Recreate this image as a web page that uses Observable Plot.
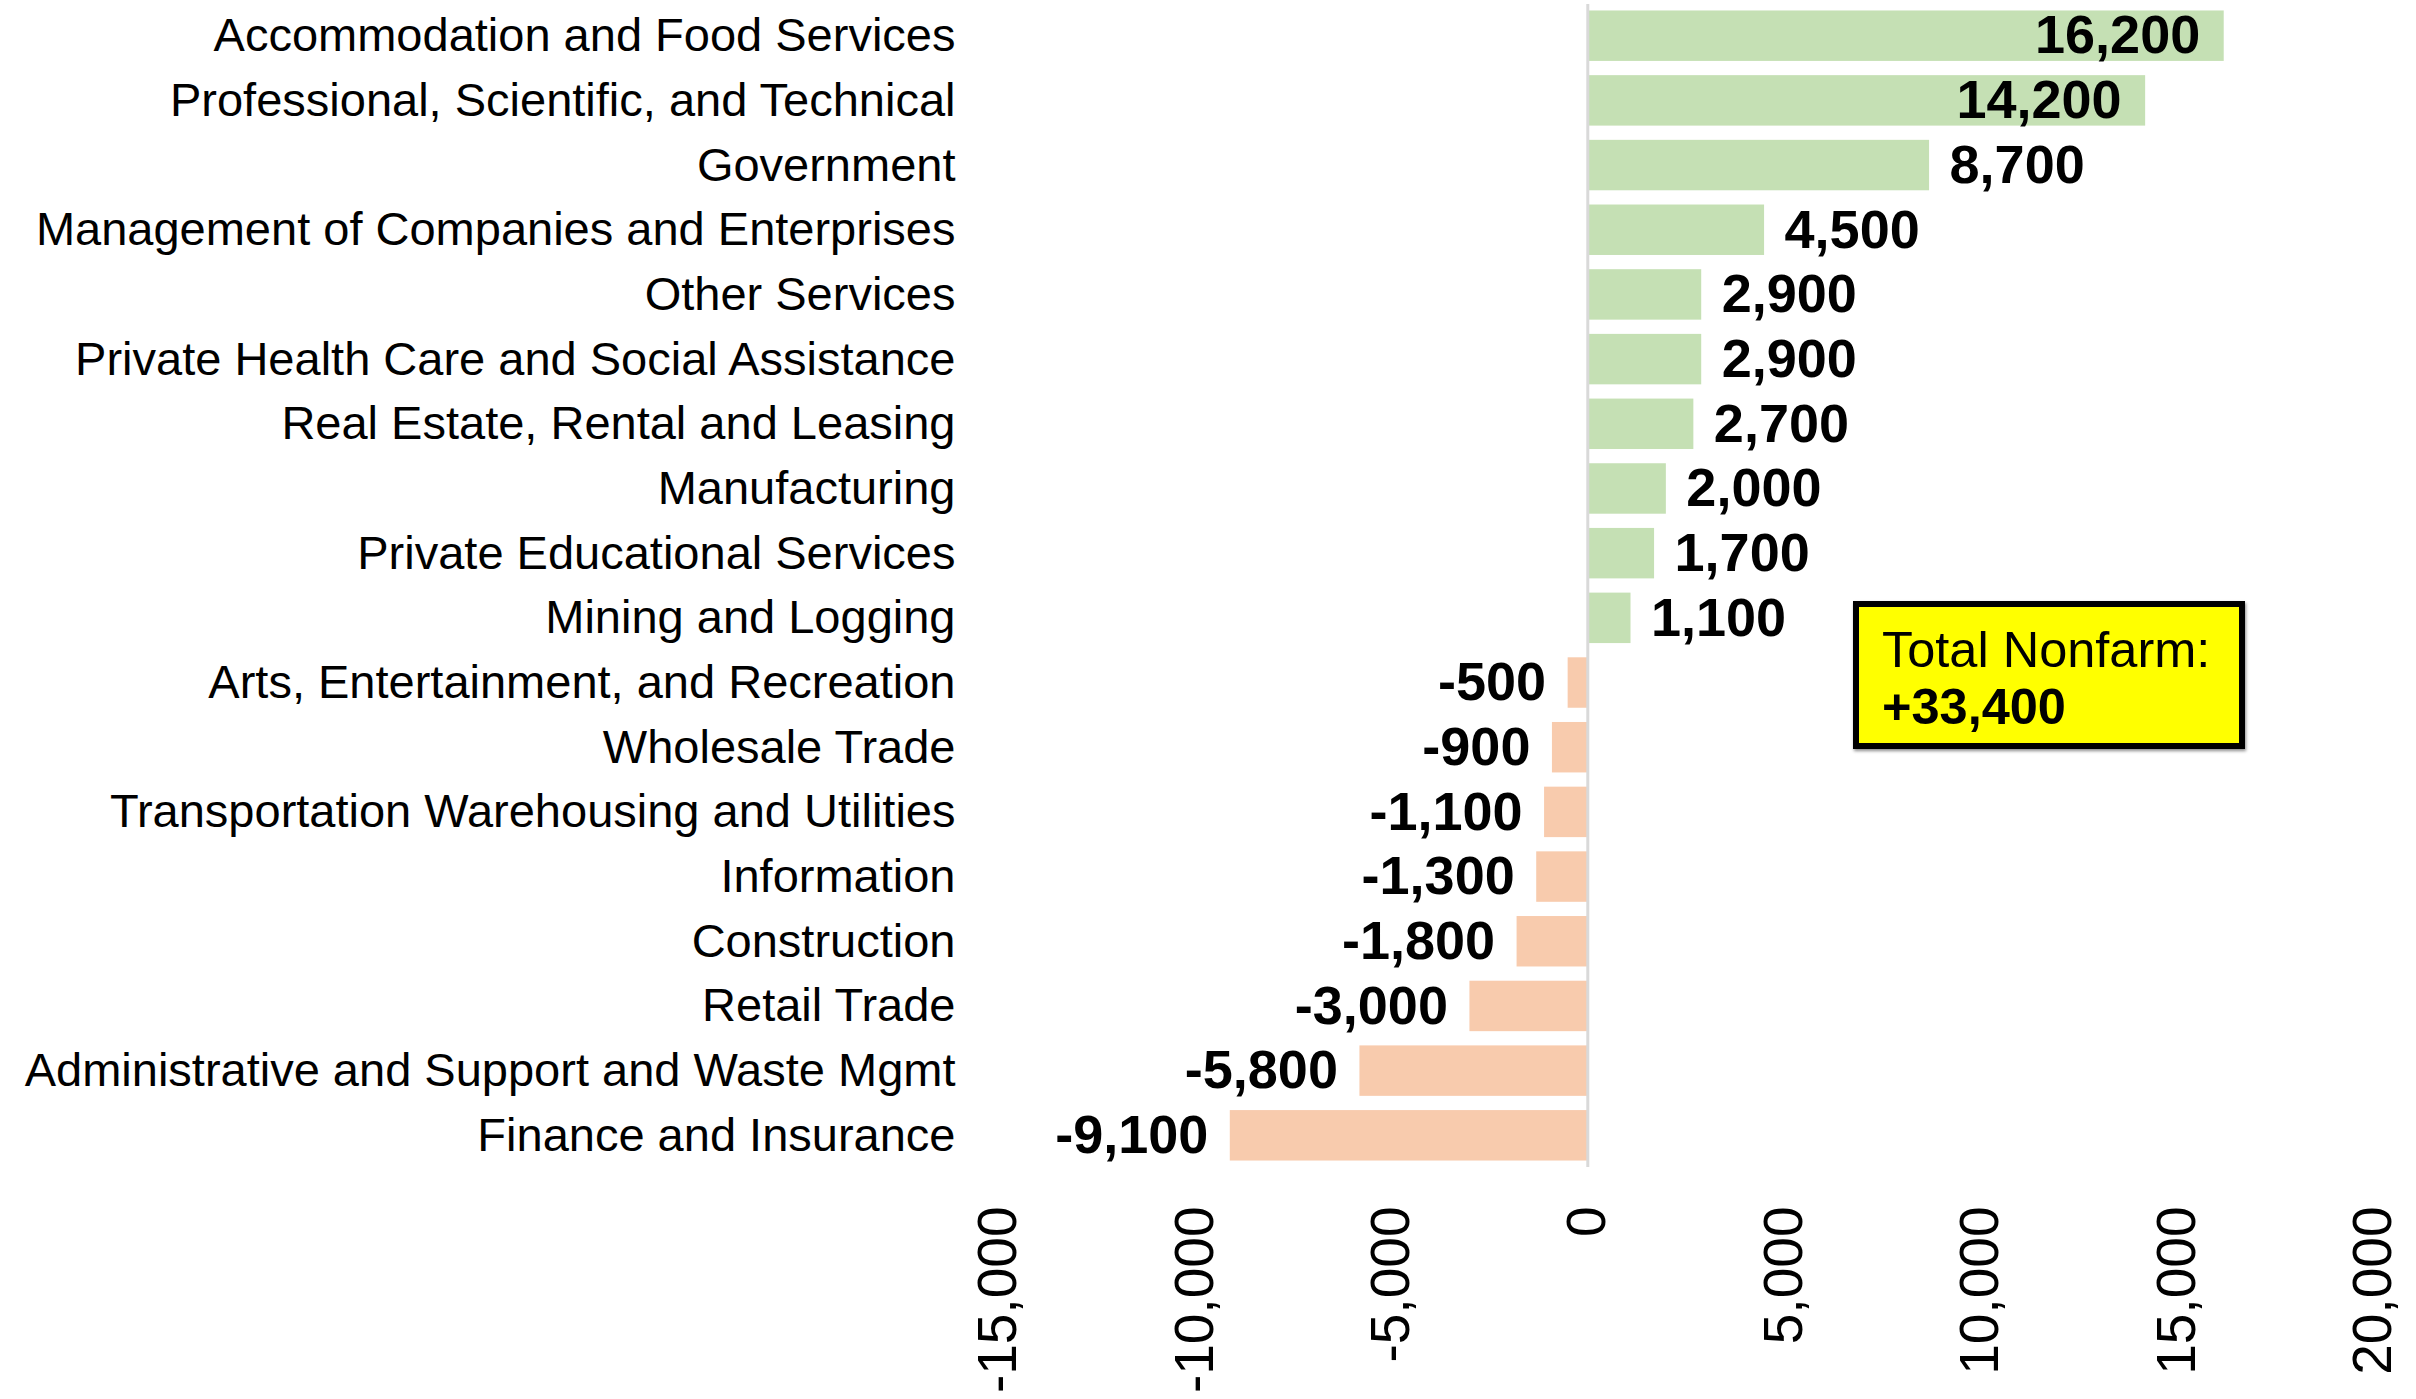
<!DOCTYPE html>
<html>
<head>
<meta charset="utf-8">
<script src="https://cdn.jsdelivr.net/npm/d3@7"></script>
<script src="https://cdn.jsdelivr.net/npm/@observablehq/plot@0.6"></script>
<style>
  html, body { margin: 0; padding: 0; background: #fff; }
  #wrap { position: relative; width: 2416px; height: 1399px; font-family: 'Liberation Sans', Arial, sans-serif; }
  #note {
    position: absolute; left: 1853px; top: 601px;
    width: 380px; height: 136px; box-sizing: content-box;
    background: #ffff00; border: 6px solid #000;
    box-shadow: 1px 2px 3px rgba(0,0,0,0.45);
    padding: 0; font-size: 50.5px; line-height: 57px; color: #000;
  }
  #note .l1 { position: absolute; left: 23px; top: 14px; white-space: nowrap; }
  #note .l2 { position: absolute; left: 23px; top: 71px; font-weight: bold; white-space: nowrap; }
</style>
</head>
<body>
<div id="wrap"></div>
<script>
const categories = [
  "Accommodation and Food Services",
  "Professional, Scientific, and Technical",
  "Government",
  "Management of Companies and Enterprises",
  "Other Services",
  "Private Health Care and Social Assistance",
  "Real Estate, Rental and Leasing",
  "Manufacturing",
  "Private Educational Services",
  "Mining and Logging",
  "Arts, Entertainment, and Recreation",
  "Wholesale Trade",
  "Transportation Warehousing and Utilities",
  "Information",
  "Construction",
  "Retail Trade",
  "Administrative and Support and Waste Mgmt",
  "Finance and Insurance"
];
const values = [16200, 14200, 8700, 4500, 2900, 2900, 2700, 2000, 1700, 1100,
  -500, -900, -1100, -1300, -1800, -3000, -5800, -9100];
const tickValues = [-15000, -10000, -5000, 0, 5000, 10000, 15000, 20000];
const totalLabel = ["Total Nonfarm:", "+33,400"];

const data = categories.map((c, i) => ({category: c, value: values[i]}));
const fmt = v => v.toLocaleString("en-US");
const pos = data.filter(d => d.value >= 0);
const neg = data.filter(d => d.value < 0);
const inside = pos.filter(d => d.value >= 14000);
const outside = pos.filter(d => d.value < 14000);

const chart = Plot.plot({
  width: 2416,
  height: 1399,
  marginLeft: 998,
  marginRight: 43,
  marginTop: 4,
  marginBottom: 232,
  style: {fontFamily: "'Liberation Sans', Arial, sans-serif", background: "#fff", color: "#000"},
  x: {domain: [-15000, 20000]},
  y: {domain: categories, paddingInner: 0.22, paddingOuter: 0.1, round: false},
  marks: [
    Plot.barX(pos, {x: "value", y: "category", fill: "#c5e0b4"}),
    Plot.barX(neg, {x: "value", y: "category", fill: "#f8cbad"}),
    Plot.ruleX([0], {stroke: "#d9d9d9", strokeWidth: 3}),
    Plot.axisY({tickSize: 0, tickPadding: 43, fontSize: 47, label: null, fill: "#000"}),
    Plot.axisX({ticks: tickValues, tickSize: 0, tickRotate: -90, tickPadding: 39, fontSize: 55,
      tickFormat: fmt, label: null, fill: "#000"}),
    Plot.text(inside, {x: "value", y: "category", text: d => fmt(d.value), textAnchor: "end",
      dx: -24, fontWeight: "bold", fontSize: 54, fill: "#000"}),
    Plot.text(outside, {x: "value", y: "category", text: d => fmt(d.value), textAnchor: "start",
      dx: 20, fontWeight: "bold", fontSize: 54, fill: "#000"}),
    Plot.text(neg, {x: "value", y: "category", text: d => fmt(d.value), textAnchor: "end",
      dx: -22, fontWeight: "bold", fontSize: 54, fill: "#000"})
  ]
});

const wrap = document.getElementById("wrap");
wrap.appendChild(chart);
const note = document.createElement("div");
note.id = "note";
note.innerHTML = `<div class="l1">${totalLabel[0]}</div><div class="l2">${totalLabel[1]}</div>`;
wrap.appendChild(note);
</script>
</body>
</html>
